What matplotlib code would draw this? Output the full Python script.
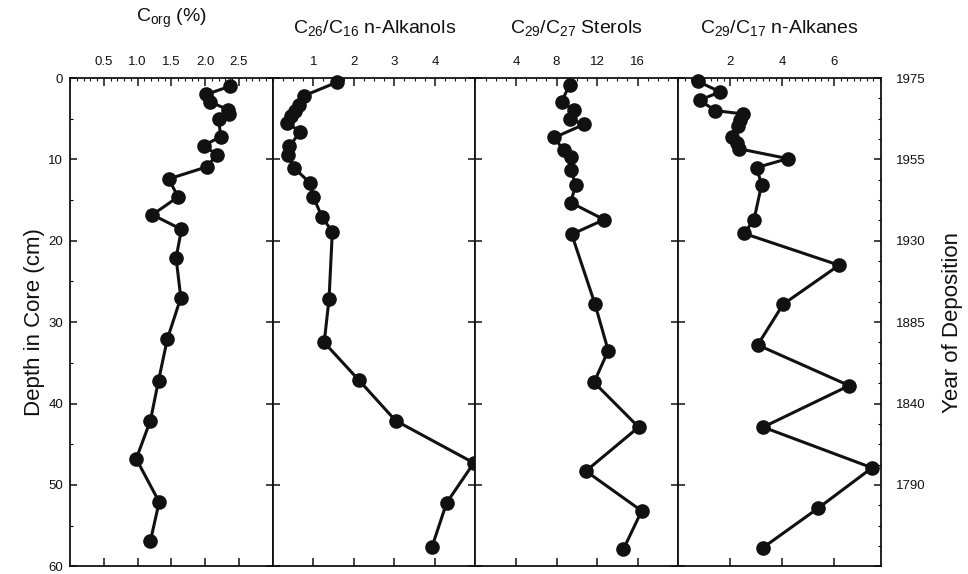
import matplotlib
matplotlib.use("Agg")
import matplotlib.pyplot as plt
from matplotlib.ticker import MultipleLocator

plt.rcParams['font.family'] = ['Liberation Sans', 'DejaVu Sans']
plt.rcParams['mathtext.fontset'] = 'custom'
plt.rcParams['mathtext.rm'] = 'Liberation Sans'
plt.rcParams['mathtext.it'] = 'Liberation Sans:italic'

# Panel 1: organic carbon (%)
corg_depth = [1.0, 2.0, 2.9, 3.9, 4.4, 5.0, 7.2, 8.3, 9.4, 10.9, 12.4, 14.6, 16.8,
              18.6, 22.1, 27.0, 32.1, 37.2, 42.1, 46.8, 52.1, 56.9]
corg = [2.37, 2.02, 2.07, 2.34, 2.36, 2.20, 2.23, 1.98, 2.17, 2.03, 1.46, 1.60, 1.22,
        1.65, 1.57, 1.64, 1.44, 1.31, 1.19, 0.98, 1.32, 1.19]

# Panel 2: C26/C16 n-alkanols
alkanol_depth = [0.5, 2.2, 3.3, 4.1, 4.7, 5.5, 6.6, 8.4, 9.4, 11.0, 12.9, 14.6, 17.1,
                 18.9, 27.1, 32.5, 37.1, 42.1, 47.3, 52.2, 57.6]
alkanol = [1.59, 0.76, 0.65, 0.55, 0.45, 0.35, 0.68, 0.41, 0.38, 0.52, 0.92, 1.00, 1.22,
           1.47, 1.39, 1.27, 2.12, 3.03, 4.96, 4.29, 3.93]

# Panel 3: C29/C27 sterols
sterol_depth = [0.8, 2.9, 3.9, 5.0, 5.7, 7.3, 8.9, 9.7, 11.3, 13.1, 15.3, 17.4, 19.2,
                27.8, 33.5, 37.4, 42.9, 48.3, 53.2, 57.9]
sterol = [9.3, 8.5, 9.7, 9.3, 10.7, 7.8, 8.7, 9.4, 9.4, 9.9, 9.4, 12.7, 9.5,
          11.8, 13.1, 11.7, 16.1, 10.9, 16.4, 14.6]

# Panel 4: C29/C17 n-alkanes
alkane_depth = [0.4, 1.7, 2.7, 4.0, 4.4, 5.2, 5.9, 7.2, 8.0, 8.7, 9.9, 11.0, 13.1,
                17.4, 19.1, 23.0, 27.8, 32.8, 37.8, 42.9, 47.9, 52.9, 57.7]
alkane = [0.75, 1.62, 0.83, 1.42, 2.48, 2.38, 2.29, 2.07, 2.26, 2.36, 4.22, 3.02, 3.21,
          2.92, 2.54, 6.19, 4.04, 3.06, 6.58, 3.27, 7.46, 5.37, 3.27]

depth_ticks = [0, 10, 20, 30, 40, 50, 60]
year_labels = ["1975", "1955", "1930", "1885", "1840", "1790", ""]

titles = ["C$_{\\mathrm{org}}$ (%)",
          "C$_{\\mathrm{26}}$/C$_{\\mathrm{16}}$ n-Alkanols",
          "C$_{\\mathrm{29}}$/C$_{\\mathrm{27}}$ Sterols",
          "C$_{\\mathrm{29}}$/C$_{\\mathrm{17}}$ n-Alkanes"]
xlims = [(0, 3), (0, 5), (0, 20), (0, 7.8)]
xticks = [[0.5, 1.0, 1.5, 2.0, 2.5], [1, 2, 3, 4], [4, 8, 12, 16], [2, 4, 6]]
xticklabels = [["0.5", "1.0", "1.5", "2.0", "2.5"], ["1", "2", "3", "4"],
               ["4", "8", "12", "16"], ["2", "4", "6"]]
minor_steps = [0.1, 0.25, 1, 0.25]

ink = "#111111"

fig, axes = plt.subplots(1, 4, figsize=(9.68, 5.74), dpi=100)
fig.subplots_adjust(left=0.0723, right=0.910, top=0.864, bottom=0.0135, wspace=0)

data = [(corg, corg_depth), (alkanol, alkanol_depth), (sterol, sterol_depth), (alkane, alkane_depth)]

for i, ax in enumerate(axes):
    vals, dep = data[i]
    ax.plot(vals, dep, color=ink, linewidth=2.2, marker="o", markersize=9.5,
            markerfacecolor=ink, markeredgecolor=ink, clip_on=False, zorder=3)
    ax.set_xlim(*xlims[i])
    ax.set_ylim(60, 0)
    ax.set_xticks(xticks[i])
    ax.set_xticklabels(xticklabels[i])
    ax.xaxis.set_minor_locator(MultipleLocator(minor_steps[i]))
    ax.tick_params(axis="x", which="major", top=True, bottom=True, labeltop=True,
                   labelbottom=False, direction="in", length=5.5, width=1.1,
                   pad=7, labelsize=9.5, colors=ink)
    ax.tick_params(axis="x", which="minor", top=True, bottom=False,
                   direction="in", length=1.8, width=0.8, colors=ink)
    ax.set_yticks(depth_ticks)
    ax.tick_params(axis="y", which="major", left=True, right=True, labelleft=False,
                   direction="in", length=5, width=1.1, colors=ink)
    for s in ax.spines.values():
        s.set_linewidth(1.3)
        s.set_color(ink)
    y_title = 1.115 if i == 0 else 1.093
    ax.text(0.5, y_title, titles[i], transform=ax.transAxes, ha="center",
            va="baseline", fontsize=14, color=ink)

# depth axis on the left
axes[0].yaxis.set_minor_locator(MultipleLocator(5))
axes[0].tick_params(axis="y", which="minor", left=True, right=False,
                    direction="in", length=2.5, width=0.8)
axes[0].tick_params(axis="y", which="major", labelleft=True, labelsize=9.5, pad=5)
axes[0].set_ylabel("Depth in Core (cm)", fontsize=16, labelpad=2, color=ink)

# year of deposition on the right
axes[3].set_yticks(depth_ticks)
axes[3].set_yticklabels(year_labels)
axes[3].yaxis.set_minor_locator(MultipleLocator(2.5))
axes[3].tick_params(axis="y", which="minor", left=False, right=True,
                    direction="in", length=2.5, width=0.8)
axes[3].tick_params(axis="y", which="major", labelright=True, labelsize=9.5, pad=11)
axes[3].yaxis.set_label_position("right")
axes[3].set_ylabel("Year of Deposition", fontsize=16, labelpad=12, color=ink)

plt.savefig("out.png", dpi=100)
